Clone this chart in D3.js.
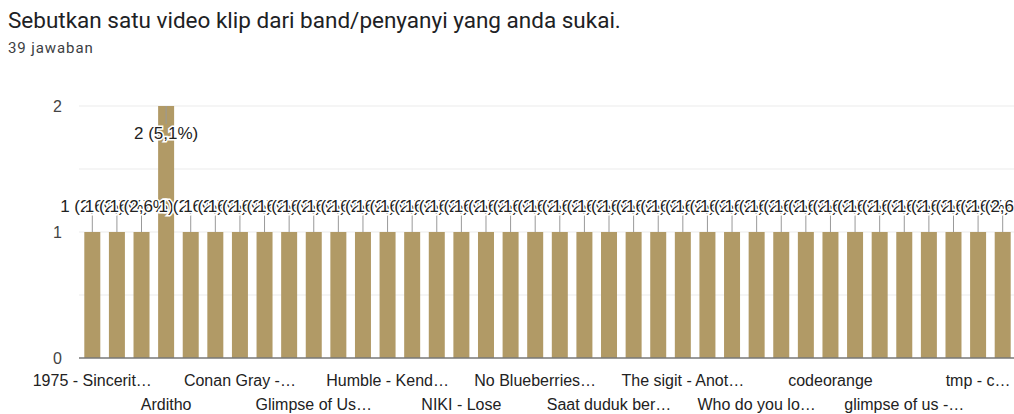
<!DOCTYPE html>
<html>
<head>
<meta charset="utf-8">
<script src="https://cdn.jsdelivr.net/npm/d3@7/dist/d3.min.js"></script>
<style>
  html, body { margin: 0; padding: 0; background: #fff; overflow: hidden; }
  svg { display: block; }
</style>
</head>
<body>
<svg id="chart" width="1014" height="414"></svg>
<script>
// ---- data ----
const title = "Sebutkan satu video klip dari band/penyanyi yang anda sukai.";
const subtitle = "39 jawaban";
const totalResponses = 39;
// 38 answer categories (alphabetical); only every third label is shown on the axis
const categories = [
  "1975 - Sincerit…", null, null, "Arditho", null, null,
  "Conan Gray -…", null, null, "Glimpse of Us…", null, null,
  "Humble - Kend…", null, null, "NIKI - Lose", null, null,
  "No Blueberries…", null, null, "Saat duduk ber…", null, null,
  "The sigit - Anot…", null, null, "Who do you lo…", null, null,
  "codeorange", null, null, "glimpse of us -…", null, null,
  "tmp - c…", null
];
const values = [
  1, 1, 1, 2, 1, 1, 1, 1, 1, 1,
  1, 1, 1, 1, 1, 1, 1, 1, 1, 1,
  1, 1, 1, 1, 1, 1, 1, 1, 1, 1,
  1, 1, 1, 1, 1, 1, 1, 1
];
const yTicks = [0, 1, 2];
const gridValues = [0.5, 1, 1.5, 2];

// ---- drawing ----
const svg = d3.select("#chart");
const barColor = "#b19a66";
const chartFont = "'Liberation Sans', Arial, sans-serif";

svg.append("text").attr("x", 8).attr("y", 28)
  .attr("font-family", "Roboto, sans-serif").attr("font-size", 22.5)
  .attr("fill", "#202124").text(title);
svg.append("text").attr("x", 8).attr("y", 53)
  .attr("font-family", "Roboto, sans-serif").attr("font-size", 15)
  .attr("letter-spacing", 0.9)
  .attr("fill", "#3c4043").text(subtitle);

const idx = d3.range(values.length);
const x = d3.scaleBand().domain(idx).range([80, 1015])
  .paddingInner(0.35).paddingOuter(0.175);
const y = d3.scaleLinear().domain([0, 2]).range([358, 106]);

// gridlines
svg.append("g").selectAll("line").data(gridValues).join("line")
  .attr("x1", 79).attr("x2", 1014)
  .attr("y1", d => y(d)).attr("y2", d => y(d))
  .attr("stroke", "#ebebeb").attr("stroke-width", 1);

// y tick labels
svg.append("g").selectAll("text").data(yTicks).join("text")
  .attr("x", 62).attr("y", d => y(d))
  .attr("dy", "0.35em").attr("text-anchor", "end")
  .attr("font-family", chartFont).attr("font-size", 16)
  .attr("fill", "#444").text(d => d);

// bars
svg.append("g").selectAll("rect").data(idx).join("rect")
  .attr("x", i => x(i)).attr("width", x.bandwidth())
  .attr("y", i => y(values[i])).attr("height", i => y(0) - y(values[i]))
  .attr("fill", barColor);

// baseline
svg.append("line").attr("x1", 79).attr("x2", 1014)
  .attr("y1", y(0)).attr("y2", y(0))
  .attr("stroke", "#777").attr("stroke-width", 1.5);

// x labels (alternating rows)
const labeled = idx.filter(i => categories[i]);
svg.append("g").selectAll("text").data(labeled).join("text")
  .attr("x", i => x(i) + x.bandwidth() / 2)
  .attr("y", (i, k) => k % 2 === 0 ? 386 : 410)
  .attr("text-anchor", "middle")
  .attr("font-family", chartFont).attr("font-size", 16)
  .attr("fill", "#222").text(i => categories[i]);

// annotations
const fmtPct = v => (v / totalResponses * 100).toFixed(1).replace(".", ",") + "%";
const ann = svg.append("g");
idx.forEach(i => {
  const v = values[i];
  const cx = x(i) + x.bandwidth() / 2;
  const top = y(v);
  const inside = v === 2;
  const stemEnd = inside ? top + 18 : top - 18;
  ann.append("line").attr("x1", cx).attr("x2", cx)
    .attr("y1", top).attr("y2", stemEnd)
    .attr("stroke", "#999").attr("stroke-width", 1);
  ann.append("text")
    .attr("x", cx).attr("y", inside ? top + 33 : top - 20)
    .attr("text-anchor", "middle")
    .attr("font-family", chartFont).attr("font-size", 17)
    .attr("fill", "#222")
    .attr("stroke", "#fff").attr("stroke-width", 3)
    .attr("paint-order", "stroke")
    .text(v + " (" + fmtPct(v) + ")");
});
</script>
</body>
</html>
